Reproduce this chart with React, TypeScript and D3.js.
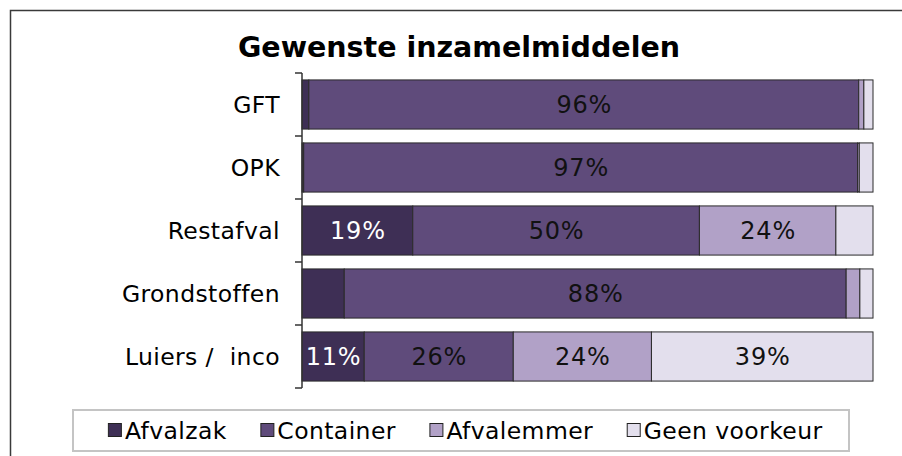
import React from 'react';
import * as d3 from 'd3';

const categories = ['GFT', 'OPK', 'Restafval', 'Grondstoffen', 'Luiers /  inco'];
const seriesNames = ['Afvalzak', 'Container', 'Afvalemmer', 'Geen voorkeur'];
const afvalzak = [1.2, 0.3, 19.4, 7.4, 10.9];
const container = [96.3, 97.0, 50.2, 87.9, 26.1];
const afvalemmer = [0.9, 0.3, 23.9, 2.4, 24.2];
const geenVoorkeur = [1.6, 2.4, 6.5, 2.3, 38.8];
const seriesColors = ['#3e2f55', '#5f4b7b', '#b1a1c7', '#e3dfed'];
const labelColors = ['#ffffff', '#111111', '#111111', '#111111'];

const W = 902;
const H = 456;
const FONT = 'DejaVu Sans, Verdana, sans-serif';
const TEXT_SIZE = 23.5;
const SPACING = 0.4;

const measure = (() => {
  let ctx: CanvasRenderingContext2D | null = null;
  return (text: string, size: number, weight = 'normal') => {
    if (!ctx) ctx = document.createElement('canvas').getContext('2d');
    if (!ctx) return text.length * size * 0.6;
    ctx.font = `${weight} ${size}px DejaVu Sans`;
    return ctx.measureText(text).width;
  };
})();

export default function App() {
  const values = [afvalzak, container, afvalemmer, geenVoorkeur];
  const table = categories.map((c, i) => {
    const row: Record<string, number | string> = { cat: c };
    seriesNames.forEach((s, k) => (row[s] = values[k][i]));
    return row;
  });
  const stacked = d3.stack<any>().keys(seriesNames)(table);

  const x = d3.scaleLinear().domain([0, 100]).range([302, 873]);
  const y = d3.scaleBand<string>().domain(categories).range([73, 388])
    .paddingInner(0.22).paddingOuter(0.11);
  const step = y.step();
  const tickYs = d3.range(categories.length + 1).map(i => 73 + i * step);

  // legend layout
  const sq = 13;
  const itemGap = 34;
  const widths = seriesNames.map(s => sq + 4 + measure(s, TEXT_SIZE) + SPACING * (s.length - 1));
  const total = d3.sum(widths) + itemGap * (seriesNames.length - 1);
  const boxL = 73, boxR = 849, boxT = 410, boxB = 451;
  let cx = (boxL + boxR) / 2 + 4 - total / 2;
  const legendX = widths.map(w => { const p = cx; cx += w + itemGap; return p; });

  return (
    <svg width={W} height={H} style={{ position: 'absolute', left: 0, top: 0, background: '#fff' }}
      fontFamily={FONT}>
      <rect x={10.5} y={10.5} width={W + 20} height={H + 20} fill="#fff" stroke="#3a3a3a" strokeWidth={1.5} />
      <text x={459} y={57} textAnchor="middle" fontSize={28.5} fontWeight="bold" fill="#000">
        Gewenste inzamelmiddelen
      </text>

      {stacked.map((layer, k) => (
        <g key={layer.key}>
          {layer.map((d, i) => {
            const x0 = x(d[0]), x1 = x(d[1]);
            const v = d[1] - d[0];
            return (
              <g key={i}>
                <rect x={x0} y={y(categories[i])!} width={Math.max(0, x1 - x0)} height={y.bandwidth()}
                  fill={seriesColors[k]} stroke="#2a2a2a" strokeWidth={1} />
                {v >= 10 && (
                  <text x={(x0 + x1) / 2 + 0.5} y={y(categories[i])! + y.bandwidth() / 2} dy="0.36em"
                    textAnchor="middle" fontSize={24} letterSpacing={0.8} fill={labelColors[k]}>
                    {`${Math.round(v)}%`}
                  </text>
                )}
              </g>
            );
          })}
        </g>
      ))}

      <line x1={302} x2={302} y1={73} y2={388} stroke="#333" strokeWidth={1.5} />
      {tickYs.map((t, i) => (
        <line key={i} x1={295} x2={302} y1={t} y2={t} stroke="#333" strokeWidth={1.5} />
      ))}
      {categories.map(c => (
        <text key={c} x={280} y={y(c)! + y.bandwidth() / 2} dy="0.36em" textAnchor="end"
          fontSize={TEXT_SIZE} letterSpacing={SPACING} fill="#000" style={{ whiteSpace: 'pre' }}>
          {c}
        </text>
      ))}

      <rect x={boxL} y={boxT} width={boxR - boxL} height={boxB - boxT} fill="#fff" stroke="#c4c4c4" strokeWidth={2} />
      {seriesNames.map((s, k) => (
        <g key={s} transform={`translate(${legendX[k]},0)`}>
          <rect x={0.5} y={423.5} width={sq} height={sq} fill={seriesColors[k]} stroke="#222" strokeWidth={1} />
          <text x={sq + 4} y={430.5} dy="0.36em" fontSize={TEXT_SIZE} letterSpacing={SPACING} fill="#000">{s}</text>
        </g>
      ))}
    </svg>
  );
}
